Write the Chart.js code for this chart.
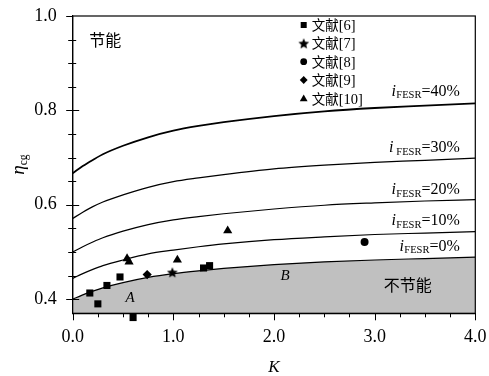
<!DOCTYPE html>
<html>
<head>
<meta charset="utf-8">
<script src="https://cdn.jsdelivr.net/npm/chart.js@4.4.0/dist/chart.umd.min.js"></script>
<style>
  html, body { margin: 0; padding: 0; background: #fff; }
  #wrap { width: 489px; height: 376px; }
</style>
</head>
<body>
<div id="wrap"><canvas id="chart"></canvas></div>
<script>
// ─── DATA ─────────────────────────────────────────────────
const kGrid = [0, 0.1, 0.2, 0.3, 0.5, 0.75, 1.0, 1.25, 1.5, 2.0, 2.5, 3.0, 3.5, 4.0];
const eta0  = [0.400, 0.409, 0.417, 0.424, 0.435, 0.446, 0.454, 0.460, 0.465, 0.473, 0.479, 0.483, 0.486, 0.489];
const eta10 = [0.444, 0.454, 0.463, 0.471, 0.483, 0.496, 0.504, 0.511, 0.517, 0.526, 0.532, 0.537, 0.540, 0.543];
const eta20 = [0.500, 0.511, 0.521, 0.530, 0.544, 0.558, 0.568, 0.575, 0.581, 0.591, 0.599, 0.604, 0.608, 0.611];
const eta30 = [0.571, 0.584, 0.596, 0.606, 0.621, 0.637, 0.649, 0.657, 0.664, 0.676, 0.684, 0.690, 0.694, 0.699];
const eta40 = [0.667, 0.682, 0.695, 0.707, 0.725, 0.743, 0.757, 0.767, 0.775, 0.788, 0.798, 0.805, 0.810, 0.815];
const curveRates = ['0%', '10%', '20%', '30%', '40%'];

const ref6K    = [0.17, 0.25, 0.34, 0.47, 0.60, 1.30, 1.36];
const ref6Eta  = [0.413, 0.390, 0.429, 0.447, 0.361, 0.466, 0.471];
const ref7K    = [0.99];
const ref7Eta  = [0.457];
const ref8K    = [2.90];
const ref8Eta  = [0.521];
const ref9K    = [0.74];
const ref9Eta  = [0.452];
const ref10K   = [0.54, 0.56, 1.04, 1.54];
const ref10Eta = [0.486, 0.479, 0.483, 0.545];
const refWord = '文献';
const refNums = ['[6]', '[7]', '[8]', '[9]', '[10]'];

const xTicks = [0, 1, 2, 3, 4];
const xMinor = [0.25, 0.5, 0.75, 1.25, 1.5, 1.75, 2.25, 2.5, 2.75, 3.25, 3.5, 3.75];
const yTicks = [0.4, 0.6, 0.8, 1.0];
const yMinor = [0.45, 0.5, 0.55, 0.65, 0.7, 0.75, 0.85, 0.9, 0.95];

// ─── HELPERS ──────────────────────────────────────────────
const SERIF = "'Liberation Serif', Tinos, 'Times New Roman', Times, serif";
const CJK = "'Noto Sans CJK SC', sans-serif";

const pts = (xs, ys) => xs.map((x, i) => ({ x, y: ys[i] }));

// filled five-point star used as a point style
function makeStar(r) {
    const c = document.createElement('canvas');
    const s = Math.ceil(r * 2 + 2);
    c.width = s; c.height = s;
    const g = c.getContext('2d');
    g.fillStyle = '#000';
    g.beginPath();
    for (let i = 0; i < 10; i++) {
        const rad = i % 2 ? r * 0.46 : r;
        const a = -Math.PI / 2 + i * Math.PI / 5;
        g.lineTo(s / 2 + rad * Math.cos(a), s / 2 + 0.6 + rad * Math.sin(a));
    }
    g.closePath();
    g.fill();
    return c;
}
const star = makeStar(5.6);

const curveSets = [eta0, eta10, eta20, eta30, eta40].map((ys, i) => ({
    label: 'iFESR=' + curveRates[i],
    data: pts(kGrid, ys),
    borderColor: '#000',
    borderWidth: i === 4 ? 1.8 : 1.2,
    pointRadius: 0,
    cubicInterpolationMode: 'monotone',
    fill: i === 0 ? 'start' : false,
    backgroundColor: '#c0c0c0',
    order: 10,
}));

const markerStyles = [
    { pointStyle: 'rect', radius: 5 },
    { pointStyle: star, radius: 5 },
    { pointStyle: 'circle', radius: 4 },
    { pointStyle: 'rectRot', radius: 4.6 },
    { pointStyle: 'triangle', radius: 5.3 },
];
const refSets = [[ref6K, ref6Eta], [ref7K, ref7Eta], [ref8K, ref8Eta], [ref9K, ref9Eta], [ref10K, ref10Eta]]
    .map(([xs, ys], i) => ({
        label: refWord + refNums[i],
        data: pts(xs, ys),
        showLine: false,
        pointStyle: markerStyles[i].pointStyle,
        pointRadius: markerStyles[i].radius,
        pointBackgroundColor: '#000',
        pointBorderColor: '#000',
        pointBorderWidth: 0,
        clip: false,
        order: 1,
    }));

// ─── DECORATION PLUGIN ────────────────────────────────────
const decor = {
    id: 'decor',
    afterDraw(chart) {
        const { ctx, chartArea: a, scales: { x, y } } = chart;
        ctx.save();

        // frame
        ctx.strokeStyle = '#000';
        ctx.lineWidth = 1.2;
        ctx.strokeRect(a.left, a.top, a.right - a.left, a.bottom - a.top);

        // tick marks
        ctx.lineWidth = 1;
        ctx.beginPath();
        yTicks.forEach(v => { const p = Math.round(y.getPixelForValue(v)) + 0.5; ctx.moveTo(a.left - 6.5, p); ctx.lineTo(a.left + (v < 1 ? 6.5 : 0), p); });
        yMinor.forEach(v => { const p = Math.round(y.getPixelForValue(v)) + 0.5; ctx.moveTo(a.left - 4.5, p); ctx.lineTo(a.left + 3.5, p); });
        xTicks.forEach(v => { const p = Math.round(x.getPixelForValue(v)) + 0.5; ctx.moveTo(p, a.bottom); ctx.lineTo(p, a.bottom + 7); });
        xMinor.forEach(v => { const p = Math.round(x.getPixelForValue(v)) + 0.5; ctx.moveTo(p, a.bottom); ctx.lineTo(p, a.bottom + 4); });
        ctx.stroke();

        ctx.fillStyle = '#000';

        // curve labels, right aligned, i with FESR subscript
        const labelBase = [0.503, 0.557, 0.6227, 0.7118, 0.8305];
        const right = x.getPixelForValue(3.846);
        curveRates.forEach((r, i) => {
            const by = y.getPixelForValue(labelBase[i]);
            ctx.textBaseline = 'alphabetic';
            ctx.font = '16px ' + SERIF;
            const tail = '=' + r;
            const wTail = ctx.measureText(tail).width;
            ctx.font = '10.5px ' + SERIF;
            const wSub = ctx.measureText('FESR').width;
            ctx.font = 'italic 16px ' + SERIF;
            const wI = ctx.measureText('i').width + (i === 3 ? 3 : 0.5);
            let px = right - wTail - wSub - wI;
            ctx.textAlign = 'left';
            ctx.fillText('i', px, by);
            px += wI;
            ctx.font = '10.5px ' + SERIF;
            ctx.fillText('FESR', px, by + 2.5);
            px += wSub;
            ctx.font = '16px ' + SERIF;
            ctx.fillText(tail, px, by);
        });

        // legend
        const legRows = [25, 43.3, 61.7, 80, 99];
        legRows.forEach((ry, i) => {
            const m = markerStyles[i];
            if (Chart.helpers && Chart.helpers.drawPoint) {
                ctx.fillStyle = '#000';
                Chart.helpers.drawPoint(ctx, { pointStyle: m.pointStyle, radius: m.radius * 0.85, borderWidth: 0, rotation: 0 }, a.left + 231, ry);
            }
            ctx.fillStyle = '#000';
            ctx.textAlign = 'left';
            ctx.textBaseline = 'alphabetic';
            ctx.font = '13.5px ' + CJK;
            ctx.fillText(refWord, a.left + 239, ry + 5);
            const w = ctx.measureText(refWord).width;
            ctx.font = '14.5px ' + SERIF;
            ctx.fillText(refNums[i], a.left + 239 + w, ry + 5);
        });

        // region text
        ctx.font = '16px ' + CJK;
        ctx.textBaseline = 'middle';
        ctx.textAlign = 'left';
        ctx.fillText('节能', a.left + 16.5, 40);
        ctx.fillText('不节能', a.left + 311, 284.5);
        ctx.font = 'italic 15px ' + SERIF;
        ctx.textAlign = 'center';
        ctx.fillText('A', x.getPixelForValue(0.57), y.getPixelForValue(0.402));
        ctx.fillText('B', x.getPixelForValue(2.11), y.getPixelForValue(0.449));

        // axis titles
        ctx.font = 'italic 17px ' + SERIF;
        ctx.textBaseline = 'alphabetic';
        ctx.fillText('K', (a.left + a.right) / 2, 372);

        ctx.translate(24, (a.top + a.bottom) / 2);
        ctx.rotate(-Math.PI / 2);
        ctx.textAlign = 'left';
        ctx.font = 'italic 19px ' + SERIF;
        const wEta = ctx.measureText('η').width;
        ctx.font = '11.5px ' + SERIF;
        const wSub = ctx.measureText('cg').width;
        const sx = -(wEta + wSub) / 2;
        ctx.font = 'italic 19px ' + SERIF;
        ctx.fillText('η', sx, 0);
        ctx.font = '11.5px ' + SERIF;
        ctx.fillText('cg', sx + wEta, 3);

        ctx.restore();
    }
};

// ─── CHART ────────────────────────────────────────────────
new Chart(document.getElementById('chart'), {
    type: 'line',
    data: { datasets: [...refSets, ...curveSets] },
    options: {
        responsive: true, maintainAspectRatio: false, animation: false,
        layout: { padding: { top: 16, right: 13.7, left: 0, bottom: 0 } },
        plugins: { legend: { display: false }, tooltip: { enabled: false } },
        scales: {
            x: {
                type: 'linear', min: 0, max: 4,
                afterBuildTicks: s => { s.ticks = xTicks.map(v => ({ value: v })); },
                afterFit: s => { s.height = 62.7; s.paddingLeft = 0; s.paddingRight = 0; },
                grid: { display: false, drawTicks: false },
                border: { display: true, color: '#000', width: 1.2 },
                ticks: { padding: 13, color: '#000', font: { family: SERIF, size: 18 }, callback: v => v.toFixed(1), maxRotation: 0 },
            },
            y: {
                type: 'linear', min: 0.37, max: 1.0,
                afterBuildTicks: s => { s.ticks = yTicks.map(v => ({ value: v })); },
                afterFit: s => { s.width = 72.7; s.paddingTop = 0; s.paddingBottom = 0; },
                grid: { display: false, drawTicks: false },
                border: { display: true, color: '#000', width: 1.2 },
                ticks: { padding: 16, color: '#000', font: { family: SERIF, size: 18 }, callback: v => v.toFixed(1) },
            }
        }
    },
    plugins: [decor]
});
</script>
</body>
</html>
